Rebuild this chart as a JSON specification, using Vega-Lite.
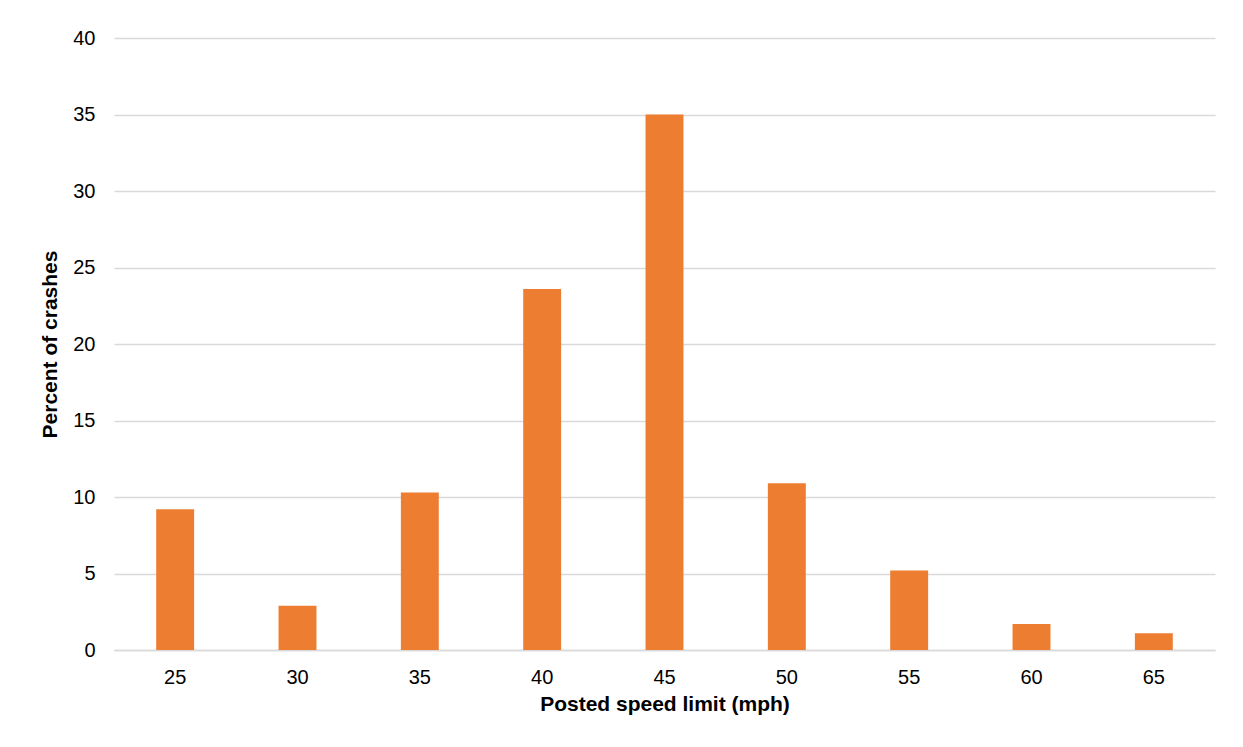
{
  "$schema": "https://vega.github.io/schema/vega-lite/v6.json",
  "autosize": {"type": "none"},
  "width": 1101,
  "height": 612,
  "padding": {"left": 114, "top": 38, "right": 28, "bottom": 97},
  "background": "#ffffff",
  "config": {
    "font": "Liberation Sans",
    "view": {"stroke": null},
    "axis": {"labelFont": "Liberation Sans", "titleFont": "Liberation Sans", "labelColor": "#000000", "titleColor": "#000000"}
  },
  "data": {
    "values": [
      {"speed": "25", "percent": 9.2},
      {"speed": "30", "percent": 2.9},
      {"speed": "35", "percent": 10.3},
      {"speed": "40", "percent": 23.6},
      {"speed": "45", "percent": 35.0},
      {"speed": "50", "percent": 10.9},
      {"speed": "55", "percent": 5.2},
      {"speed": "60", "percent": 1.7},
      {"speed": "65", "percent": 1.1}
    ]
  },
  "mark": {"type": "bar", "color": "#ED7D31"},
  "encoding": {
    "x": {
      "field": "speed",
      "type": "ordinal",
      "sort": null,
      "scale": {"paddingInner": 0.69, "paddingOuter": 0.345},
      "axis": {
        "title": "Posted speed limit (mph)",
        "titleFontSize": 21,
        "titleFontWeight": "bold",
        "titlePadding": 6,
        "labelFontSize": 20,
        "labelAngle": 0,
        "labelPadding": 17,
        "ticks": false,
        "domain": true,
        "domainColor": "#d9d9d9",
        "domainWidth": 1.5
      }
    },
    "y": {
      "field": "percent",
      "type": "quantitative",
      "scale": {"domain": [0, 40]},
      "axis": {
        "title": "Percent of crashes",
        "titleFontSize": 21,
        "titleFontWeight": "bold",
        "titlePadding": 12,
        "values": [0, 5, 10, 15, 20, 25, 30, 35, 40],
        "labelFontSize": 20,
        "labelPadding": 19,
        "ticks": false,
        "domain": false,
        "grid": true,
        "gridColor": "#d9d9d9",
        "gridWidth": 1.5
      }
    }
  }
}
